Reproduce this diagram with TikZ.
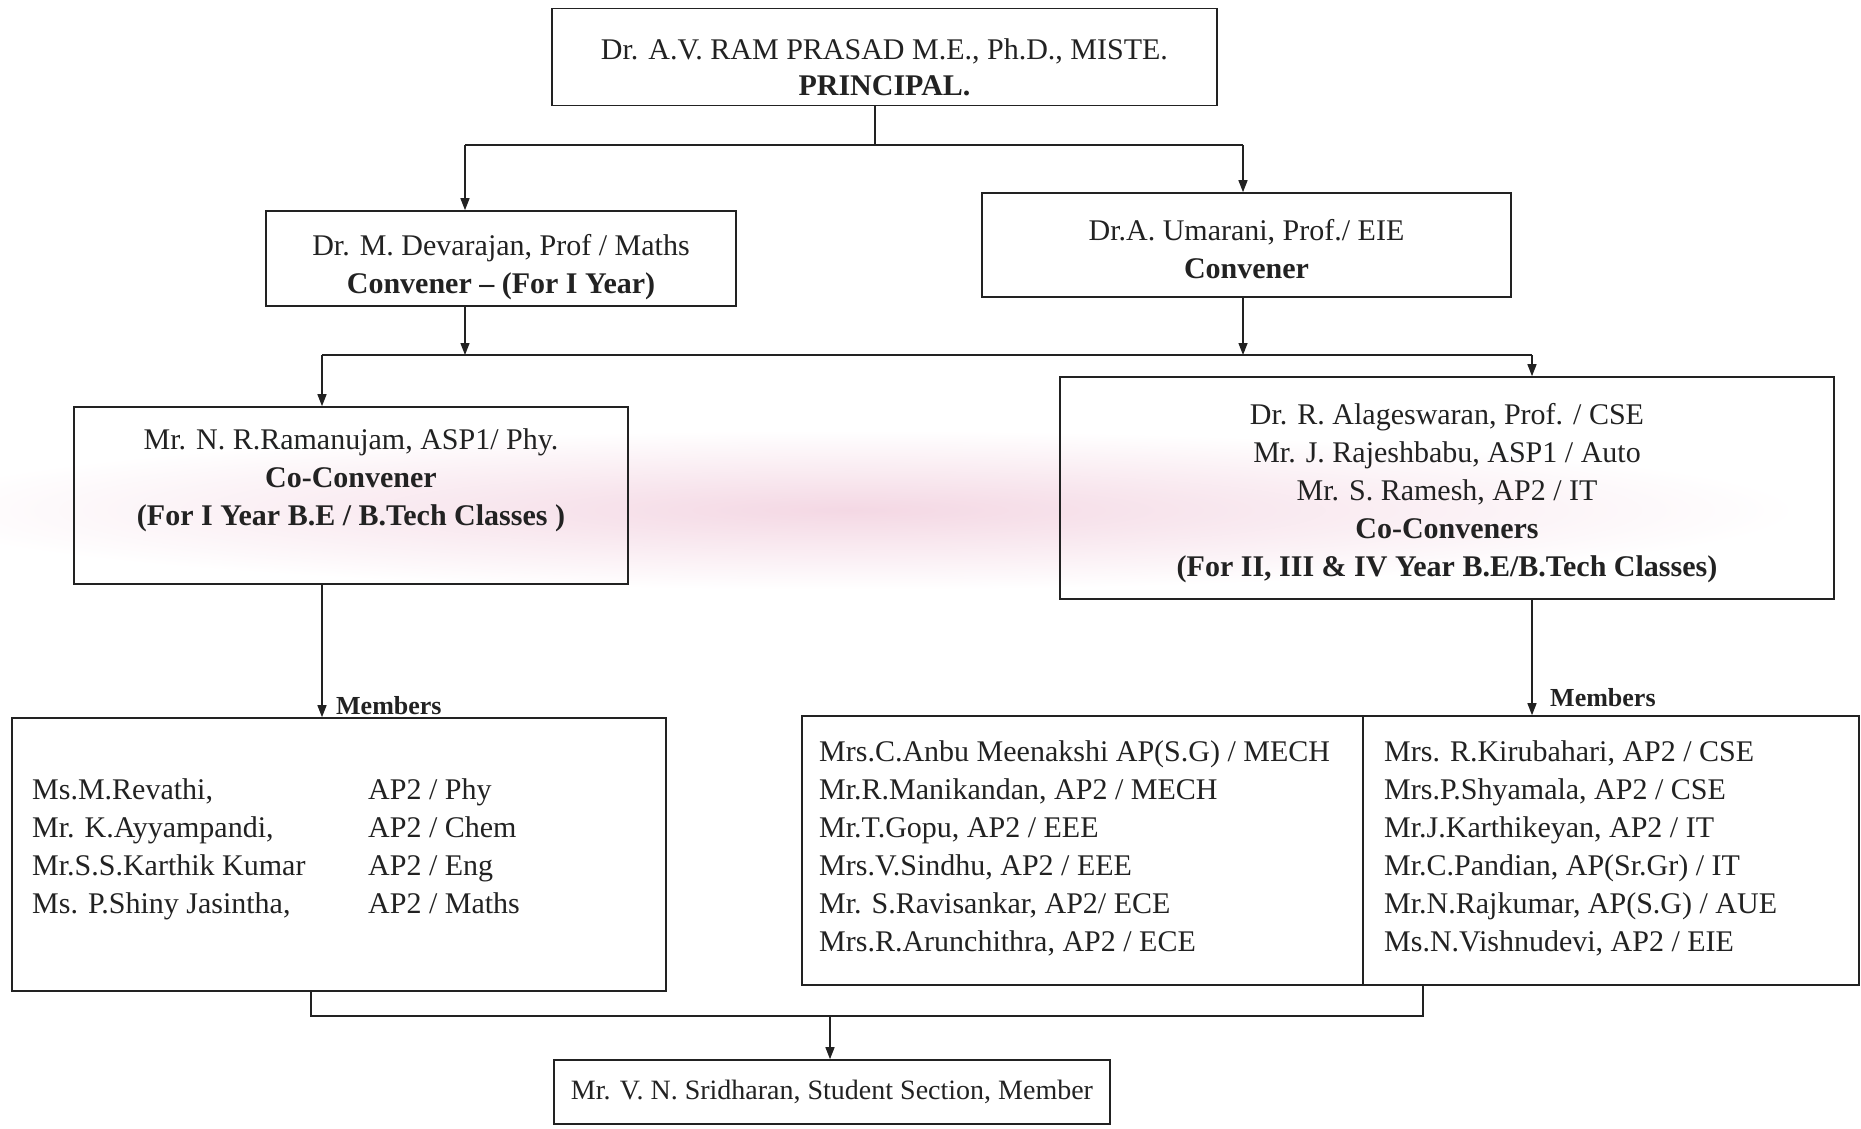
\documentclass[tikz,border=0pt]{standalone}
\usepackage{fontspec}
\setmainfont{Liberation Serif}
\usetikzlibrary{arrows.meta,calc}
\definecolor{ink}{HTML}{222222}
\definecolor{smear}{RGB}{244,216,228}
\begin{document}
\begin{tikzpicture}[x=1pt,y=-1pt,
  box/.style={draw=ink,line width=1.6pt,rectangle,inner sep=0pt,align=center,text=ink},
  txt/.style={inner sep=0pt,text=ink,align=center},
  arr/.style={draw=ink,line width=1.3pt,-{Triangle[length=12pt,width=9pt]}},
  ln/.style={draw=ink,line width=1.6pt},
  fs/.style={font=\fontsize{30}{38}\selectfont}]
\useasboundingbox (0,0) rectangle (1861,1128);
\shade[inner color=smear,outer color=white] (850,510) ellipse [x radius=950, y radius=80];

% boxes
\node[box,minimum width=665pt,minimum height=97pt] (p) at (884.5,57) {};
\node[txt,font=\fontsize{30}{36}\selectfont] (pt) at (884.5,67)
  {Dr. A.V. RAM PRASAD M.E., Ph.D., MISTE.\\\textbf{PRINCIPAL.}};
\node[box,minimum width=470pt,minimum height=95pt] (dev) at (501,258.5) {};
\node[txt,fs] (devt) at (501,267)
  {Dr. M. Devarajan, Prof / Maths\\\textbf{Convener -- (For I Year)}};
\node[box,minimum width=529pt,minimum height=104pt] (um) at (1246.5,245) {};
\node[txt,fs] (umt) at (1246.5,249)
  {Dr.A. Umarani, Prof./ EIE\\\textbf{Convener}};
\node[box,minimum width=554pt,minimum height=177pt] (ram) at (351,495.5) {};
\node[txt,fs] (ramt) at (351,480)
  {Mr. N. R.Ramanujam, ASP1/ Phy.\\\textbf{Co-Convener}\\\textbf{(For I Year B.E / B.Tech Classes )}};
\node[box,minimum width=774pt,minimum height=222pt] (ala) at (1447,488) {};
\node[txt,fs] (alat) at (1447,493)
  {Dr. R. Alageswaran, Prof. / CSE\\Mr. J. Rajeshbabu, ASP1 / Auto\\Mr. S. Ramesh, AP2 / IT\\\textbf{Co-Conveners}\\\textbf{(For II, III \& IV Year B.E/B.Tech Classes)}};
\node[box,minimum width=654pt,minimum height=273pt] (lm) at (339,854.5) {};
\node[box,minimum width=1057pt,minimum height=269pt] (rm) at (1330.5,850.5) {};
\node[box,font=\fontsize{28}{34}\selectfont,minimum width=556pt,minimum height=64pt] (sri) at (832,1092)
  {Mr. V. N. Sridharan, Student Section, Member};

% member lists
\node[txt,fs,anchor=base west] (lmt) at (32,799)
  {\begin{tabular}[t]{@{}p{336pt}@{}l@{}}
  Ms.M.Revathi, & AP2 / Phy\\
  Mr. K.Ayyampandi, & AP2 / Chem\\
  Mr.S.S.Karthik Kumar & AP2 / Eng\\
  Ms. P.Shiny Jasintha, & AP2 / Maths
  \end{tabular}};
\node[txt,fs,anchor=base west] (rmt1) at (819,761)
  {\begin{tabular}[t]{@{}l@{}}
  Mrs.C.Anbu Meenakshi AP(S.G) / MECH\\
  Mr.R.Manikandan, AP2 / MECH\\
  Mr.T.Gopu, AP2 / EEE\\
  Mrs.V.Sindhu, AP2 / EEE\\
  Mr. S.Ravisankar, AP2/ ECE\\
  Mrs.R.Arunchithra, AP2 / ECE
  \end{tabular}};
\node[txt,fs,anchor=base west] (rmt2) at (1384,761)
  {\begin{tabular}[t]{@{}l@{}}
  Mrs. R.Kirubahari, AP2 / CSE\\
  Mrs.P.Shyamala, AP2 / CSE\\
  Mr.J.Karthikeyan, AP2 / IT\\
  Mr.C.Pandian, AP(Sr.Gr) / IT\\
  Mr.N.Rajkumar, AP(S.G) / AUE\\
  Ms.N.Vishnudevi, AP2 / EIE
  \end{tabular}};
\coordinate (dv) at (1363,0);
\draw[ln] (rm.north -| dv) -- (rm.south -| dv);

% connectors
\coordinate (j1) at (875,145);
\coordinate (a1) at (465,145);
\coordinate (a2) at (1243,145);
\draw[ln] (p.south -| j1) -- (j1);
\draw[ln] (a1) -- (a2);
\draw[arr] (a1) -- (a1 |- dev.north);
\draw[arr] (a2) -- (a2 |- um.north);

\coordinate (b1) at (322,355);
\coordinate (b2) at (1532,355);
\draw[arr] (dev.south -| a1) -- (a1 |- b1);
\draw[arr] (um.south -| a2) -- (a2 |- b1);
\draw[ln] (b1) -- (b2);
\draw[arr] (b1) -- (b1 |- ram.north);
\draw[arr] (b2) -- (b2 |- ala.north);

\draw[arr] (ram.south -| b1) -- (b1 |- lm.north);
\draw[arr] (ala.south -| b2) -- (b2 |- rm.north);
\node[txt,font=\fontsize{26}{30}\selectfont\bfseries,anchor=south west] (mem1) at ($(b1 |- lm.north)+(14,-2)$) {Members};
\node[txt,font=\fontsize{26}{30}\selectfont\bfseries,anchor=south west] (mem2) at ($(b2 |- rm.north)+(18,-8)$) {Members};

\coordinate (c1) at (311,1016);
\coordinate (c2) at (1423,1016);
\coordinate (c3) at (830,1016);
\draw[ln] (lm.south -| c1) -- (c1) -- (c2) -- (rm.south -| c2);
\draw[arr] (c3) -- (c3 |- sri.north);
\end{tikzpicture}
\end{document}
